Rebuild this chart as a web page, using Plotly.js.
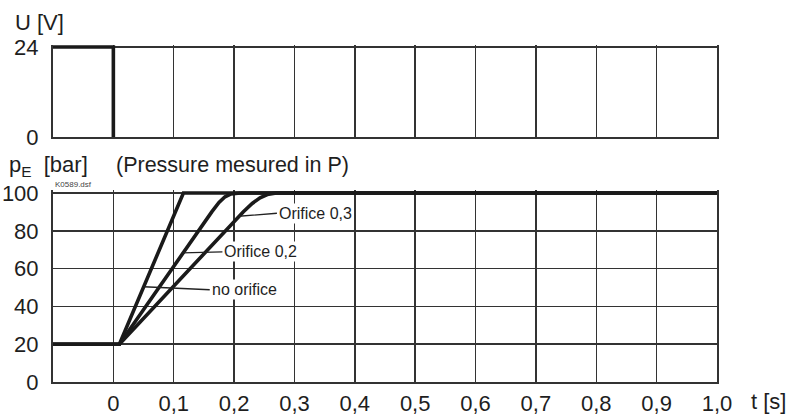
<!DOCTYPE html>
<html>
<head>
<meta charset="utf-8">
<script src="https://cdn.plot.ly/plotly-3.0.1.min.js"></script>
<style>
html,body{margin:0;padding:0;background:#fff;}
#chart{width:788px;height:419px;}
</style>
</head>
<body>
<div id="chart"></div>
<script>
// ---- data ----
var tickVals = [0, 0.1, 0.2, 0.3, 0.4, 0.5, 0.6, 0.7, 0.8, 0.9, 1.0];
var tickText = ["0", "0,1", "0,2", "0,3", "0,4", "0,5", "0,6", "0,7", "0,8", "0,9", "1,0"];

var tU = [-0.1, 0, 0];
var uU = [24, 24, 0];

var tNoOrifice = [-0.1, 0.01, 0.116, 1.0];
var pNoOrifice = [20, 20, 100, 100];

var tOrifice02 = [-0.1, 0.01, 0.163, 0.175, 0.185, 0.195, 0.21, 1.0];
var pOrifice02 = [20, 20, 90, 95, 98, 99.5, 100, 100];

var tOrifice03 = [-0.1, 0.01, 0.215, 0.23, 0.243, 0.255, 0.27, 1.0];
var pOrifice03 = [20, 20, 90, 94.5, 97.5, 99.2, 100, 100];

var uTicks = [0, 24];
var pTicks = [0, 20, 40, 60, 80, 100];

// label anchor points on the curves
var lblNo = {t: 0.0503, p: 50.4, text: "no orifice"};
var lbl02 = {t: 0.1144, p: 68.3, text: "Orifice 0,2"};
var lbl03 = {t: 0.208, p: 87.7, text: "Orifice 0,3"};

// ---- chart ----
var FONT = "Liberation Sans, Arial, Helvetica, sans-serif";
var lineStyle = {color: "#1a1a1a", width: 3.6};

var traces = [
  {x: tU, y: uU, xaxis: "x2", yaxis: "y", mode: "lines", line: lineStyle, hoverinfo: "skip"},
  {x: tNoOrifice, y: pNoOrifice, xaxis: "x", yaxis: "y2", mode: "lines", line: lineStyle, hoverinfo: "skip"},
  {x: tOrifice02, y: pOrifice02, xaxis: "x", yaxis: "y2", mode: "lines", line: lineStyle, hoverinfo: "skip"},
  {x: tOrifice03, y: pOrifice03, xaxis: "x", yaxis: "y2", mode: "lines", line: lineStyle, hoverinfo: "skip"}
];

var gridCol = "#333";
var axFont = {family: FONT, size: 22, color: "#1e1e1e"};

function lbl(o, ax, ay) {
  return {
    xref: "x", yref: "y2", x: o.t, y: o.p, text: o.text,
    showarrow: true, arrowhead: 0, arrowwidth: 1.3, arrowcolor: "#222",
    ax: ax, ay: ay, xanchor: "left", yanchor: "middle",
    bgcolor: "#fff", borderpad: 1,
    font: {family: FONT, size: 16, color: "#1e1e1e"}
  };
}

var layout = {
  width: 788, height: 419,
  margin: {l: 53, r: 71, t: 45, b: 37},
  paper_bgcolor: "#fff", plot_bgcolor: "#fff",
  showlegend: false,
  xaxis: {
    anchor: "y2", range: [-0.1, 1.0], tickmode: "array", tickvals: tickVals, ticktext: tickText,
    showgrid: true, gridcolor: gridCol, gridwidth: 1.5, zeroline: false,
    showline: true, linecolor: "#333", linewidth: 2, mirror: false,
    ticks: "", ticklabelstandoff: 1, tickfont: axFont, fixedrange: true
  },
  xaxis2: {
    anchor: "y", matches: "x", range: [-0.1, 1.0], tickmode: "array", tickvals: tickVals,
    showticklabels: false,
    showgrid: true, gridcolor: gridCol, gridwidth: 1.5, zeroline: false,
    showline: true, linecolor: "#333", linewidth: 2, ticks: "", fixedrange: true
  },
  yaxis: {
    domain: [0.72700, 1], anchor: "x2", range: [0, 24.53],
    tickmode: "array", tickvals: uTicks, ticktext: ["0", "24"],
    showgrid: true, gridcolor: gridCol, gridwidth: 1.5, zeroline: false,
    showline: true, linecolor: "#333", linewidth: 2, mirror: true,
    ticks: "", ticklabelstandoff: 8, tickfont: axFont, fixedrange: true
  },
  yaxis2: {
    domain: [0, 0.56973], anchor: "x", range: [0, 101.6],
    tickmode: "array", tickvals: pTicks,
    showgrid: true, gridcolor: gridCol, gridwidth: 1.5, zeroline: false,
    showline: true, linecolor: "#333", linewidth: 2, mirror: true,
    ticks: "", ticklabelstandoff: 8, tickfont: axFont, fixedrange: true
  },
  annotations: [
    {xref: "paper", yref: "paper", x: -0.0602, y: 1.068, xanchor: "left", yanchor: "middle",
     text: "U [V]", showarrow: false, font: {family: FONT, size: 22, color: "#1e1e1e"}},
    {xref: "paper", yref: "paper", x: -0.0693, y: 0.640, xanchor: "left", yanchor: "middle",
     text: "p<sub>E</sub>  [bar]", showarrow: false, font: {family: FONT, size: 22, color: "#1e1e1e"}},
    {xref: "paper", yref: "paper", x: 0.0919, y: 0.644, xanchor: "left", yanchor: "middle",
     text: "(Pressure mesured in P)", showarrow: false, font: {family: FONT, size: 21.5, color: "#1e1e1e"}},
    {xref: "paper", yref: "paper", x: 0.0, y: 0.5846, xanchor: "left", yanchor: "middle",
     text: "K0589.dsf", showarrow: false, font: {family: FONT, size: 8, color: "#444"}},
    {xref: "paper", yref: "paper", x: 1.048, y: -0.0593, xanchor: "left", yanchor: "middle",
     text: "t [s]", showarrow: false, font: {family: FONT, size: 22, color: "#1e1e1e"}},
    lbl(lbl03, 38, -3),
    lbl(lbl02, 40, -1),
    lbl(lblNo, 66, 3)
  ]
};

Plotly.newPlot("chart", traces, layout, {staticPlot: true, displayModeBar: false});
</script>
</body>
</html>
